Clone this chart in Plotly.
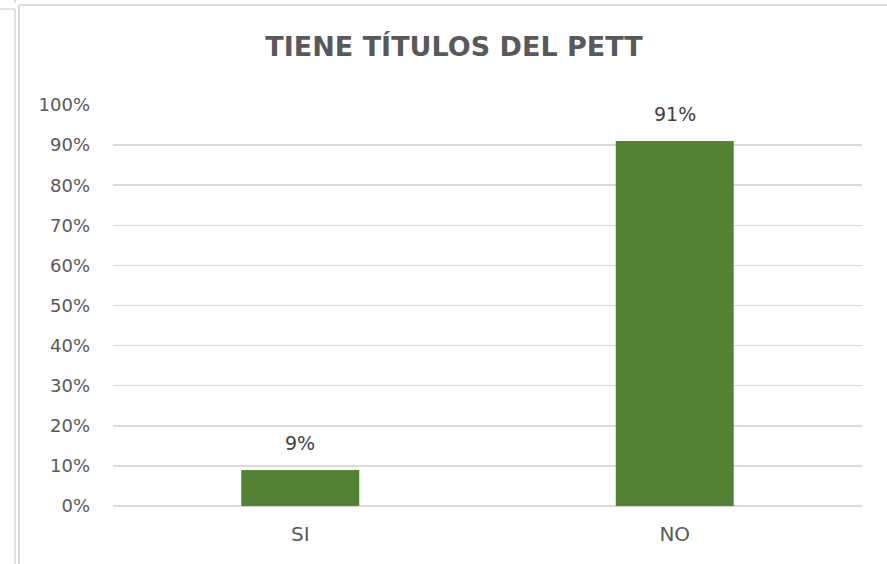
import plotly.graph_objects as go

categories = ["SI", "NO"]
values = [0.09, 0.91]
labels = ["9%", "91%"]
title_text = "TIENE TÍTULOS DEL PETT"

OFF = 0  # body margin removed via post_script
W, H = 887 - OFF, 564 - OFF
L, R, T, B = 113 - OFF, 25, 105 - OFF, 58
pw, ph = W - L - R, H - T - B

def px(x):  # screen x -> paper x
    return (x - OFF - L) / pw

def py(y):  # screen y -> paper y
    return (OFF + H - B - y) / ph

FONT = "DejaVu Sans"
TXT = "#595959"

fig = go.Figure(go.Bar(
    x=categories, y=values,
    marker=dict(color="#548235", line=dict(width=0)),
    width=0.315,
    hoverinfo="skip",
))

annotations = [
    dict(x=c, y=v, text=t, xref="x", yref="y", showarrow=False, yanchor="middle", yshift=27,
         font=dict(size=19, color="#404040", family=FONT))
    for c, v, t in zip(categories, values, labels)
]

gray = "#d9d9d9"
shapes = [
    dict(type="line", xref="paper", yref="paper", x0=px(19), x1=px(900), y0=py(5), y1=py(5), line=dict(color=gray, width=2)),
    dict(type="line", xref="paper", yref="paper", x0=px(19), x1=px(19), y0=py(5), y1=py(570), line=dict(color=gray, width=2)),
    dict(type="line", xref="paper", yref="paper", x0=px(15), x1=px(15), y0=py(9), y1=py(570), line=dict(color=gray, width=1.5)),
    dict(type="line", xref="paper", yref="paper", x0=px(-5), x1=px(15), y0=py(9), y1=py(9), line=dict(color=gray, width=1.5)),
    dict(type="line", xref="paper", yref="paper", x0=px(15), x1=px(15), y0=py(-5), y1=py(3), line=dict(color=gray, width=1.5)),
]

fig.update_layout(
    width=W, height=H,
    margin=dict(l=L, r=R, t=T, b=B),
    paper_bgcolor="white", plot_bgcolor="white",
    title=dict(text="<b>" + title_text + "</b>", x=(454 - OFF) / W, xanchor="center",
               y=1 - (47 - OFF) / H, yanchor="middle",
               font=dict(size=27, color=TXT, family=FONT)),
    font=dict(family=FONT, color=TXT, size=18),
    showlegend=False,
    bargap=0.685,
    hovermode=False,
    xaxis=dict(showgrid=False, ticks="", showline=False, ticklabelstandoff=14,
               tickfont=dict(size=20, color=TXT, family=FONT)),
    yaxis=dict(range=[0, 1], dtick=0.1, tickformat=".0%", showgrid=True, gridcolor=gray, gridwidth=1.5,
               zeroline=True, zerolinecolor=gray, zerolinewidth=1.5, showline=False, ticks="",
               ticklabelstandoff=22,
               tickfont=dict(size=18, color=TXT, family=FONT)),
    shapes=shapes,
    annotations=annotations,
)

fig.write_html("out.html", config={"displayModeBar": False, "staticPlot": True},
               post_script="document.body.style.margin='0px';document.body.style.overflow='hidden';")
